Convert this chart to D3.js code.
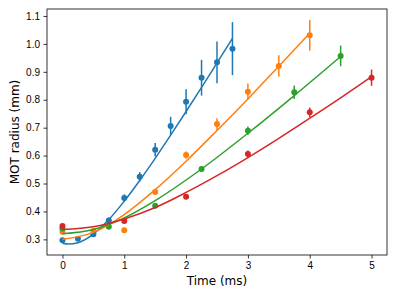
<!DOCTYPE html>
<html>
<head>
<meta charset="utf-8">
<script src="https://cdn.jsdelivr.net/npm/d3@7"></script>
<style>
	body { margin: 0; background: #fff; }
	svg { display: block; font-family: "DejaVu Sans", sans-serif; }
</style>
</head>
<body>
<div id="chart"></div>
<script>
const colors = ["#1f77b4", "#ff7f0e", "#2ca02c", "#d62728"];

// measured points (time in ms, radius in mm, error in mm)
const blueT = [0, 0.25, 0.5, 0.75, 1.0, 1.25, 1.5, 1.75, 2.0, 2.25, 2.5, 2.75];
const blueR = [0.297, 0.302, 0.318, 0.368, 0.448, 0.524, 0.621, 0.706, 0.793, 0.879, 0.934, 0.983];
const blueE = [0.006, 0.006, 0.008, 0.010, 0.013, 0.017, 0.024, 0.033, 0.045, 0.064, 0.075, 0.095];

const orangeT = [0, 0.5, 1.0, 1.5, 2.0, 2.5, 3.0, 3.5, 4.0];
const orangeR = [0.327, 0.330, 0.333, 0.470, 0.602, 0.713, 0.829, 0.921, 1.031];
const orangeE = [0.006, 0.006, 0.006, 0.010, 0.013, 0.021, 0.029, 0.038, 0.055];

const greenT = [0, 0.75, 1.5, 2.25, 3.0, 3.75, 4.5];
const greenR = [0.339, 0.345, 0.420, 0.552, 0.689, 0.827, 0.957];
const greenE = [0.006, 0.008, 0.008, 0.010, 0.015, 0.024, 0.037];

const redT = [0, 1.0, 2.0, 3.0, 4.0, 5.0];
const redR = [0.348, 0.366, 0.453, 0.606, 0.755, 0.879];
const redE = [0.006, 0.007, 0.008, 0.012, 0.017, 0.029];

const blueFitT = [0, 0.1, 0.25, 0.5, 0.75, 1.0, 1.25, 1.5, 1.75, 2.0, 2.25, 2.5, 2.75];
const blueFitR = [0.286, 0.283, 0.288, 0.319, 0.371, 0.437, 0.511, 0.590, 0.673, 0.758, 0.844, 0.932, 1.020];

const orangeFitT = [0, 0.5, 1.0, 1.5, 2.0, 2.5, 3.0, 3.5, 4.0];
const orangeFitR = [0.300, 0.325, 0.389, 0.478, 0.580, 0.690, 0.803, 0.920, 1.038];

const greenFitT = [0, 0.5, 0.75, 1.0, 1.5, 2.25, 3.0, 3.75, 4.5];
const greenFitR = [0.320, 0.335, 0.353, 0.377, 0.439, 0.552, 0.680, 0.815, 0.955];

const redFitT = [0, 0.5, 1.0, 1.5, 2.0, 2.5, 3.0, 3.5, 4.0, 4.5, 5.0];
const redFitR = [0.335, 0.345, 0.373, 0.414, 0.468, 0.528, 0.593, 0.662, 0.734, 0.807, 0.883];

const xTicks = [0, 1, 2, 3, 4, 5];
const yTicks = [0.3, 0.4, 0.5, 0.6, 0.7, 0.8, 0.9, 1.0, 1.1];

const series = [
	{ t: blueT, r: blueR, e: blueE, ft: blueFitT, fr: blueFitR },
	{ t: orangeT, r: orangeR, e: orangeE, ft: orangeFitT, fr: orangeFitR },
	{ t: greenT, r: greenR, e: greenE, ft: greenFitT, fr: greenFitR },
	{ t: redT, r: redR, e: redE, ft: redFitT, fr: redFitR }
];

const width = 396;
const height = 297;
const margin = ({ top: 9, right: 9, bottom: 42, left: 47 });

const x = d3.scaleLinear()
	.domain([-0.25, 5.25])
	.range([margin.left, width - margin.right]);

const y = d3.scaleLinear()
	.domain([0.244, 1.125])
	.range([height - margin.bottom, margin.top]);

const svg = d3.select("#chart")
	.append("svg")
	.attr("width", width)
	.attr("height", height)
	.attr("viewBox", [0, 0, width, height]);

const xAxis = g => g
	.attr("transform", `translate(0,${height - margin.bottom})`)
	.call(d3.axisBottom(x).tickValues(xTicks).tickFormat(d3.format("d")).tickSize(3.5).tickPadding(3.5))
	.call(g => g.select(".domain").remove())
	.call(g => g.selectAll(".tick line").attr("stroke-width", 0.8))
	.call(g => g.selectAll(".tick text").attr("font-size", 10).attr("fill", "#000"));

const yAxis = g => g
	.attr("transform", `translate(${margin.left},0)`)
	.call(d3.axisLeft(y).tickValues(yTicks).tickFormat(d3.format(".1f")).tickSize(3.5).tickPadding(3.5))
	.call(g => g.select(".domain").remove())
	.call(g => g.selectAll(".tick line").attr("stroke-width", 0.8))
	.call(g => g.selectAll(".tick text").attr("font-size", 10).attr("fill", "#000"));

svg.append("g")
	.call(xAxis);

svg.append("g")
	.call(yAxis);

const line = d3.line()
	.x(d => x(d[0]))
	.y(d => y(d[1]))
	.curve(d3.curveMonotoneX);

series.forEach((s, i) => {
	const g = svg.append("g");
	const pts = s.t.map((t, j) => ({ t: t, r: s.r[j], e: s.e[j] }));

	g.selectAll("line.err")
		.data(pts)
		.join("line")
		.attr("class", "err")
		.attr("x1", d => x(d.t))
		.attr("x2", d => x(d.t))
		.attr("y1", d => y(d.r - d.e))
		.attr("y2", d => y(d.r + d.e))
		.attr("stroke", colors[i])
		.attr("stroke-width", 1.5);

	g.selectAll("circle")
		.data(pts)
		.join("circle")
		.attr("cx", d => x(d.t))
		.attr("cy", d => y(d.r))
		.attr("r", 3)
		.attr("fill", colors[i]);
});

series.forEach((s, i) => {
	svg.append("path")
		.datum(s.ft.map((t, j) => [t, s.fr[j]]))
		.attr("fill", "none")
		.attr("stroke", colors[i])
		.attr("stroke-width", 1.5)
		.attr("stroke-linejoin", "round")
		.attr("d", line);
});

svg.append("rect")
	.attr("x", margin.left)
	.attr("y", margin.top)
	.attr("width", width - margin.left - margin.right)
	.attr("height", height - margin.top - margin.bottom)
	.attr("fill", "none")
	.attr("stroke", "#000")
	.attr("stroke-width", 0.8);

svg.append("text")
	.attr("x", (margin.left + width - margin.right) / 2)
	.attr("y", 284.5)
	.attr("text-anchor", "middle")
	.attr("font-size", 12)
	.text("Time (ms)");

svg.append("text")
	.attr("transform", `translate(18.5,${(margin.top + height - margin.bottom) / 2}) rotate(-90)`)
	.attr("text-anchor", "middle")
	.attr("font-size", 12)
	.text("MOT radius (mm)");
</script>
</body>
</html>
